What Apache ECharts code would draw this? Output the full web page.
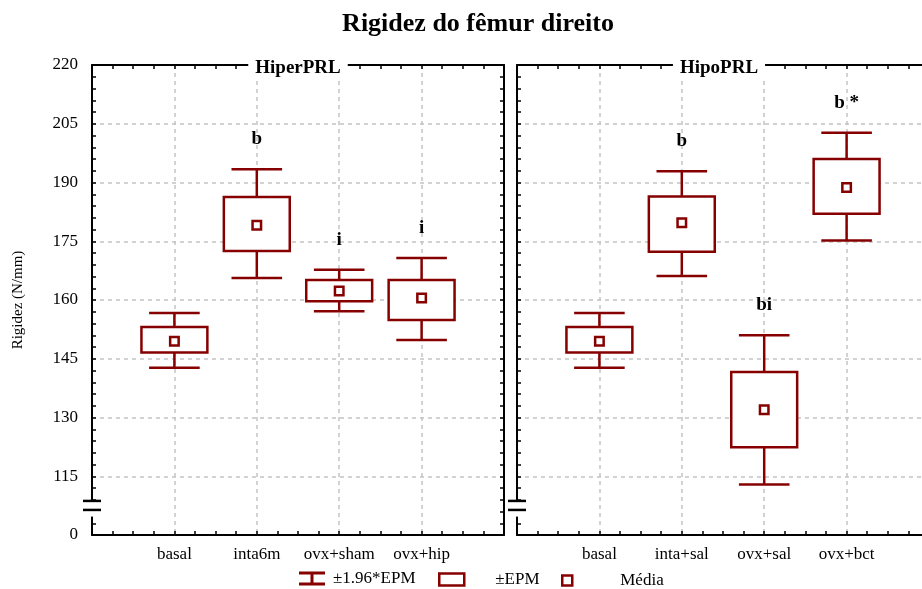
<!DOCTYPE html>
<html>
<head>
<meta charset="utf-8">
<script src="https://cdn.jsdelivr.net/npm/echarts@6/dist/echarts.min.js"></script>
<style>
  html, body { margin: 0; padding: 0; background: #fff; }
  #chart { width: 922px; height: 589px; }
</style>
</head>
<body>
<div id="chart"></div>
<script>
// Rigidez do fêmur direito: média, ±EPM e ±1.96*EPM por grupo
const panels = ['HiperPRL', 'HipoPRL'];

const catsHiper = ['basal', 'inta6m', 'ovx+sham', 'ovx+hip'];
const meanHiper = [149.5, 179.1, 162.3, 160.5];
const boxLowHiper = [146.6, 172.5, 159.7, 154.9];
const boxHighHiper = [153.1, 186.3, 165.1, 165.1];
const whiskLowHiper = [142.7, 165.6, 157.1, 149.8];
const whiskHighHiper = [156.7, 193.4, 167.7, 170.7];
const sigHiper = ['', 'b', 'i', 'i'];

const catsHipo = ['basal', 'inta+sal', 'ovx+sal', 'ovx+bct'];
const meanHipo = [149.5, 179.7, 132.0, 188.7];
const boxLowHipo = [146.6, 172.3, 122.4, 182.0];
const boxHighHipo = [153.1, 186.4, 141.6, 196.0];
const whiskLowHipo = [142.7, 166.1, 112.9, 175.2];
const whiskHighHipo = [156.7, 192.9, 151.0, 202.7];
const sigHipo = ['', 'b', 'bi', 'b *'];

const yTickLabels = { 100: '0' };

const RED = '#870000';
const SERIF = '"Liberation Serif", "Times New Roman", serif';
const allCats = [catsHiper, catsHipo];

function rows(means, bl, bh, wl, wh, sig) {
  return means.map((m, i) => [i + 1, m, bl[i], bh[i], wl[i], wh[i], sig[i]]);
}
const dataHiper = rows(meanHiper, boxLowHiper, boxHighHiper, whiskLowHiper, whiskHighHiper, sigHiper);
const dataHipo = rows(meanHipo, boxLowHipo, boxHighHipo, whiskLowHipo, whiskHighHipo, sigHipo);

const frameTick = { show: true, inside: true, length: 4, lineStyle: { color: '#000', width: 1.5 } };
const frameLine = { show: true, onZero: false, lineStyle: { color: '#000', width: 2 } };
const gridDash = { color: '#c4c4c4', width: 1.5, type: [4, 4] };

function xAxisBottom(g) {
  return {
    type: 'value', gridIndex: g, position: 'bottom', min: 0, max: 5, interval: 1,
    axisLine: frameLine, axisTick: frameTick,
    minorTick: Object.assign({ splitNumber: 4 }, frameTick),
    splitLine: { show: true, lineStyle: gridDash },
    axisLabel: {
      show: true, margin: 11, color: '#000', fontFamily: SERIF, fontSize: 17,
      formatter: v => allCats[g][v - 1] || ''
    }
  };
}
function xAxisTop(g) {
  return {
    type: 'value', gridIndex: g, position: 'top', min: 0, max: 5, interval: 1,
    axisLine: frameLine, axisTick: frameTick,
    minorTick: Object.assign({ splitNumber: 4 }, frameTick),
    splitLine: { show: false }, axisLabel: { show: false }
  };
}
function yAxis(g, pos) {
  const left = pos === 'left';
  return {
    type: 'value', gridIndex: g, position: pos, min: 100, max: 220, interval: 15,
    name: (left && g === 0) ? 'Rigidez (N/mm)' : '',
    nameLocation: 'middle', nameGap: 66,
    nameTextStyle: { fontFamily: SERIF, fontSize: 15, color: '#000' },
    axisLine: frameLine, axisTick: frameTick,
    minorTick: Object.assign({ splitNumber: 5 }, frameTick),
    splitLine: { show: left, lineStyle: gridDash },
    axisLabel: {
      show: left && g === 0, margin: 14, color: '#000', fontFamily: SERIF, fontSize: 17,
      formatter: v => (yTickLabels[v] !== undefined ? yTickLabels[v] : String(v))
    }
  };
}

function whiskerSeries(g, data) {
  return {
    type: 'custom', name: '±1.96*EPM', xAxisIndex: g * 2, yAxisIndex: g * 2,
    itemStyle: { color: RED }, z: 3, data: data,
    renderItem: (params, api) => {
      const x = api.value(0);
      const band = api.size([1, 0])[0];
      const half = band * 0.307;
      const lo = api.coord([x, api.value(4)]);
      const hi = api.coord([x, api.value(5)]);
      const st = { stroke: RED, lineWidth: 2.5 };
      const children = [
        { type: 'line', shape: { x1: lo[0], y1: lo[1], x2: hi[0], y2: hi[1] }, style: st },
        { type: 'line', shape: { x1: lo[0] - half, y1: lo[1], x2: lo[0] + half, y2: lo[1] }, style: st },
        { type: 'line', shape: { x1: hi[0] - half, y1: hi[1], x2: hi[0] + half, y2: hi[1] }, style: st }
      ];
      const sig = data[params.dataIndex][6];
      if (sig) {
        children.push({
          type: 'text', x: hi[0], y: hi[1] - 30,
          style: {
            text: sig, fill: '#000', font: 'bold 19px ' + SERIF,
            textAlign: 'center', textVerticalAlign: 'middle'
          }
        });
      }
      return { type: 'group', children: children };
    }
  };
}
function boxSeries(g, data) {
  return {
    type: 'custom', name: '±EPM', xAxisIndex: g * 2, yAxisIndex: g * 2,
    itemStyle: { color: RED }, z: 4, data: data,
    renderItem: (params, api) => {
      const x = api.value(0);
      const band = api.size([1, 0])[0];
      const w = band * 0.8;
      const top = api.coord([x, api.value(3)]);
      const bot = api.coord([x, api.value(2)]);
      return {
        type: 'rect',
        shape: { x: top[0] - w / 2, y: top[1], width: w, height: bot[1] - top[1] },
        style: { fill: '#fff', stroke: RED, lineWidth: 2.5 }
      };
    }
  };
}
function meanSeries(g, data) {
  return {
    type: 'custom', name: 'Média', xAxisIndex: g * 2, yAxisIndex: g * 2,
    itemStyle: { color: RED }, z: 5, data: data,
    renderItem: (params, api) => {
      const c = api.coord([api.value(0), api.value(1)]);
      const s = 8.5;
      return {
        type: 'rect',
        shape: { x: c[0] - s / 2, y: c[1] - s / 2, width: s, height: s },
        style: { fill: '#fff', stroke: RED, lineWidth: 2.5 }
      };
    }
  };
}
// axis break glyph drawn on the left y axis of each panel
function breakSeries(g) {
  return {
    type: 'custom', name: 'quebra', xAxisIndex: g * 2, yAxisIndex: g * 2,
    silent: true, z: 6, data: [[0]],
    renderItem: (params, api) => {
      const a = api.coord([0, 108.7]);
      const b = api.coord([0, 106.4]);
      const c = api.coord([0, 104.7]);
      const st = { stroke: '#000', lineWidth: 2.5 };
      return {
        type: 'group',
        children: [
          { type: 'rect', shape: { x: a[0] - 10, y: a[1] + 1, width: 20, height: c[1] - a[1] - 1 }, style: { fill: '#fff' } },
          { type: 'line', shape: { x1: a[0] - 9, y1: a[1], x2: a[0] + 9, y2: a[1] }, style: st },
          { type: 'line', shape: { x1: b[0] - 9, y1: b[1], x2: b[0] + 9, y2: b[1] }, style: st }
        ]
      };
    }
  };
}

// panel headings sit on the top frame line, with a white backing
function panelTitle(text, centerX) {
  return {
    text: text, left: centerX, top: 56, textAlign: 'center',
    backgroundColor: '#fff', padding: [1, 7, 1, 7], z: 10,
    textStyle: { fontFamily: SERIF, fontWeight: 'bold', fontSize: 19, color: '#000', lineHeight: 22 }
  };
}

const legendFont = { fontFamily: SERIF, fontSize: 17, color: '#000' };
const option = {
  animation: false,
  backgroundColor: '#fff',
  title: [
    {
      text: 'Rigidez do fêmur direito', left: 473, top: 6, textAlign: 'center',
      textStyle: { fontFamily: SERIF, fontWeight: 'bold', fontSize: 26, color: '#000' }
    },
    panelTitle(panels[0], 291),
    panelTitle(panels[1], 712)
  ],
  grid: [
    { left: 92, top: 65, width: 412, height: 470, outerBoundsMode: 'none', containLabel: false },
    { left: 517, top: 65, width: 412, height: 470, outerBoundsMode: 'none', containLabel: false }
  ],
  xAxis: [xAxisBottom(0), xAxisTop(0), xAxisBottom(1), xAxisTop(1)],
  yAxis: [yAxis(0, 'left'), yAxis(0, 'right'), yAxis(1, 'left'), yAxis(1, 'right')],
  legend: [
    {
      left: 294, top: 565, itemWidth: 26, itemHeight: 14, selectedMode: false,
      textStyle: Object.assign({ padding: [0, 0, 0, 3] }, legendFont),
      data: [{ name: '±1.96*EPM', icon: 'path://M0,0H26V3H14.5V11H26V14H0V11H11.5V3H0Z', itemStyle: { color: RED, borderWidth: 0 } }]
    },
    {
      left: 433, top: 566, itemWidth: 25, itemHeight: 12, selectedMode: false,
      textStyle: Object.assign({ padding: [0, 0, 0, 26] }, legendFont),
      data: [{ name: '±EPM', icon: 'rect', itemStyle: { color: '#fff', borderColor: RED, borderWidth: 2.5 } }]
    },
    {
      left: 556, top: 567, itemWidth: 10, itemHeight: 10, selectedMode: false,
      textStyle: Object.assign({ padding: [0, 0, 0, 43] }, legendFont),
      data: [{ name: 'Média', icon: 'rect', itemStyle: { color: '#fff', borderColor: RED, borderWidth: 2.5 } }]
    }
  ],
  series: [
    whiskerSeries(0, dataHiper), boxSeries(0, dataHiper), meanSeries(0, dataHiper), breakSeries(0),
    whiskerSeries(1, dataHipo), boxSeries(1, dataHipo), meanSeries(1, dataHipo), breakSeries(1)
  ]
};

const chart = echarts.init(document.getElementById('chart'), null, { renderer: 'canvas' });
chart.setOption(option);
</script>
</body>
</html>
